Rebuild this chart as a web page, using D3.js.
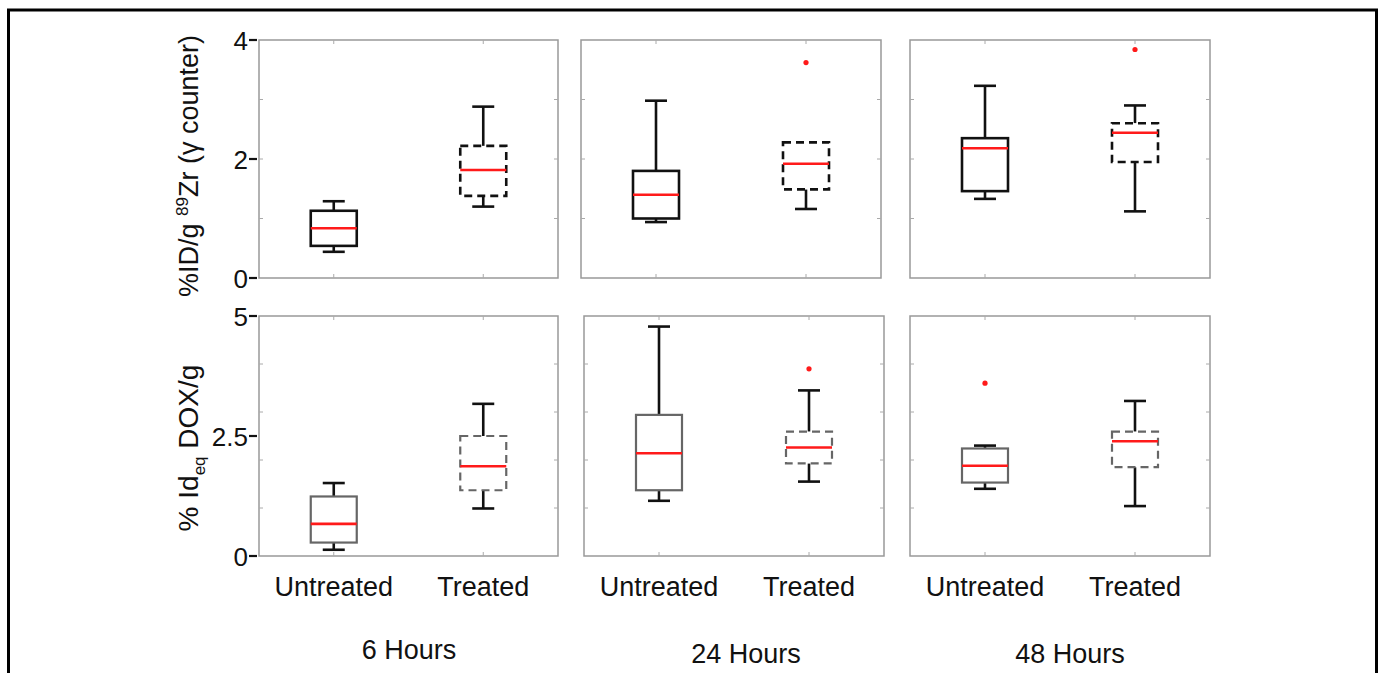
<!DOCTYPE html>
<html>
<head>
<meta charset="utf-8">
<script src="https://cdn.jsdelivr.net/npm/d3@7"></script>
<style>
  html, body { margin: 0; padding: 0; background: #fff; }
  svg text { font-family: "Liberation Sans", Arial, sans-serif; fill: #111; }
</style>
</head>
<body>
<div id="chart"></div>
<script>
(function () {

    var GROUPS = ["Untreated", "Treated"];
    var HOURS  = ["6 Hours", "24 Hours", "48 Hours"];

    // five-number summaries [low whisker, q1, median, q3, high whisker] per hour, per group
    var ZR_STATS = [
        [[0.44, 0.54, 0.835, 1.13, 1.29], [1.20, 1.38, 1.815, 2.22, 2.88]],
        [[0.94, 1.00, 1.40, 1.80, 2.98],  [1.16, 1.49, 1.92, 2.28, 2.28]],
        [[1.33, 1.46, 2.18, 2.35, 3.23],  [1.12, 1.95, 2.44, 2.60, 2.90]]
    ];
    var ZR_OUTLIERS = [
        [[], []],
        [[], [3.62]],
        [[], [3.84]]
    ];

    var DOX_STATS = [
        [[0.13, 0.28, 0.67, 1.24, 1.52], [0.99, 1.37, 1.87, 2.50, 3.17]],
        [[1.15, 1.37, 2.14, 2.94, 4.78], [1.55, 1.93, 2.26, 2.59, 3.45]],
        [[1.40, 1.53, 1.88, 2.24, 2.30], [1.04, 1.85, 2.39, 2.59, 3.23]]
    ];
    var DOX_OUTLIERS = [
        [[], []],
        [[], [3.90]],
        [[3.60], []]
    ];

    var ZR_TICKS      = [1, 2, 3];
    var ZR_LABELS     = [0, 2, 4];
    var DOX_TICKS     = [1, 2, 3, 4];
    var DOX_LABELS    = [0, 2.5, 5];

    /* ── layout ───────────────────────────────────────────────────── */
    var W = 1380, H = 673;
    var ROWS = [
        { top: 40,  bottom: 278, max: 4, stats: ZR_STATS,  outliers: ZR_OUTLIERS,
          ticks: ZR_TICKS, labels: ZR_LABELS, boxStroke: "#111", boxWidth: 2.6,
          cols: [[259, 558], [581, 881], [910, 1210]] },
        { top: 316, bottom: 556, max: 5, stats: DOX_STATS, outliers: DOX_OUTLIERS,
          ticks: DOX_TICKS, labels: DOX_LABELS, boxStroke: "#666", boxWidth: 2.2,
          cols: [[259, 558], [584, 884], [910, 1210]] }
    ];
    var BOX_W = 46, CAP_W = 22;

    var svg = d3.select("#chart").append("svg")
        .attr("width", W).attr("height", H);

    // outer frame
    svg.append("rect")
        .attr("x", 8.5).attr("y", 10)
        .attr("width", 1368).attr("height", H + 20)
        .attr("fill", "none").attr("stroke", "#000").attr("stroke-width", 3);

    ROWS.forEach(function (row, ri) {
        var y = d3.scaleLinear().domain([0, row.max]).range([row.bottom, row.top]);

        row.cols.forEach(function (col, ci) {
            var x = d3.scaleLinear().domain([0.5, 2.5]).range(col);
            var g = svg.append("g");

            // frame
            g.append("rect")
                .attr("x", col[0]).attr("y", row.top)
                .attr("width", col[1] - col[0]).attr("height", row.bottom - row.top)
                .attr("fill", "none").attr("stroke", "#999").attr("stroke-width", 1.5);

            // inner ticks, left/right
            row.ticks.forEach(function (t) {
                [[col[0], col[0] + 4], [col[1] - 4, col[1]]].forEach(function (s) {
                    g.append("line")
                        .attr("x1", s[0]).attr("x2", s[1])
                        .attr("y1", y(t)).attr("y2", y(t))
                        .attr("stroke", "#aaa").attr("stroke-width", 1);
                });
            });
            // inner ticks, top/bottom at categories
            GROUPS.forEach(function (gName, gi) {
                [[row.top, row.top + 4], [row.bottom - 4, row.bottom]].forEach(function (s) {
                    g.append("line")
                        .attr("x1", x(gi + 1)).attr("x2", x(gi + 1))
                        .attr("y1", s[0]).attr("y2", s[1])
                        .attr("stroke", "#aaa").attr("stroke-width", 1);
                });
            });

            // y tick labels on first column
            if (ci === 0) {
                row.labels.forEach(function (v) {
                    g.append("line")
                        .attr("x1", col[0] - 10).attr("x2", col[0] - 2)
                        .attr("y1", y(v)).attr("y2", y(v))
                        .attr("stroke", "#111").attr("stroke-width", 2.2);
                    g.append("text")
                        .attr("x", col[0] - 11).attr("y", y(v) + 9.5)
                        .attr("text-anchor", "end")
                        .style("font-size", "26px")
                        .text(v);
                });
            }

            // boxes
            row.stats[ci].forEach(function (s, gi) {
                var cx = x(gi + 1);
                var dashed = gi === 1;
                var lo = s[0], q1 = s[1], med = s[2], q3 = s[3], hi = s[4];

                // whiskers
                [[lo, q1], [q3, hi]].forEach(function (w) {
                    if (w[0] === w[1]) return;
                    g.append("line")
                        .attr("x1", cx).attr("x2", cx)
                        .attr("y1", y(w[0])).attr("y2", y(w[1]))
                        .attr("stroke", "#111").attr("stroke-width", 2.6);
                });
                [lo, hi].forEach(function (c, k) {
                    if (c === (k === 0 ? q1 : q3)) return;
                    g.append("line")
                        .attr("x1", cx - CAP_W / 2).attr("x2", cx + CAP_W / 2)
                        .attr("y1", y(c)).attr("y2", y(c))
                        .attr("stroke", "#111").attr("stroke-width", 2.6);
                });

                // box
                g.append("rect")
                    .attr("x", cx - BOX_W / 2).attr("y", y(q3))
                    .attr("width", BOX_W).attr("height", y(q1) - y(q3))
                    .attr("fill", "#fff")
                    .attr("stroke", row.boxStroke)
                    .attr("stroke-width", row.boxWidth)
                    .attr("stroke-dasharray", dashed ? "8 5" : null);

                // median
                g.append("line")
                    .attr("x1", cx - BOX_W / 2).attr("x2", cx + BOX_W / 2)
                    .attr("y1", y(med)).attr("y2", y(med))
                    .attr("stroke", "#ff1a1a").attr("stroke-width", 2.6);

                // outliers
                row.outliers[ci][gi].forEach(function (o) {
                    g.append("circle")
                        .attr("cx", cx).attr("cy", y(o)).attr("r", 2.6)
                        .attr("fill", "#ff1a1a");
                });

                // category labels under bottom row
                if (ri === 1) {
                    svg.append("text")
                        .attr("x", cx).attr("y", 596)
                        .attr("text-anchor", "middle")
                        .style("font-size", "27px")
                        .text(GROUPS[gi]);
                }
            });
        });
    });

    // hours labels
    var HOUR_X = [409, 746, 1070];
    var HOUR_Y = [659, 663, 663];
    HOURS.forEach(function (h, i) {
        svg.append("text")
            .attr("x", HOUR_X[i]).attr("y", HOUR_Y[i])
            .attr("text-anchor", "middle")
            .style("font-size", "27px")
            .text(h);
    });

    // y axis titles
    var t1 = svg.append("text")
        .attr("transform", "translate(198,166) rotate(-90)")
        .attr("text-anchor", "middle")
        .style("font-size", "27px");
    t1.append("tspan").text("%ID/g ");
    t1.append("tspan").attr("dy", -10).style("font-size", "17px").text("89");
    t1.append("tspan").attr("dy", 10).text("Zr (\u03b3 counter)");

    var t2 = svg.append("text")
        .attr("transform", "translate(198,448) rotate(-90)")
        .attr("text-anchor", "middle")
        .style("font-size", "28px");
    t2.append("tspan").text("% Id");
    t2.append("tspan").attr("dy", 7).style("font-size", "17px").text("eq");
    t2.append("tspan").attr("dy", -7).text(" DOX/g");

}());
</script>
</body>
</html>
